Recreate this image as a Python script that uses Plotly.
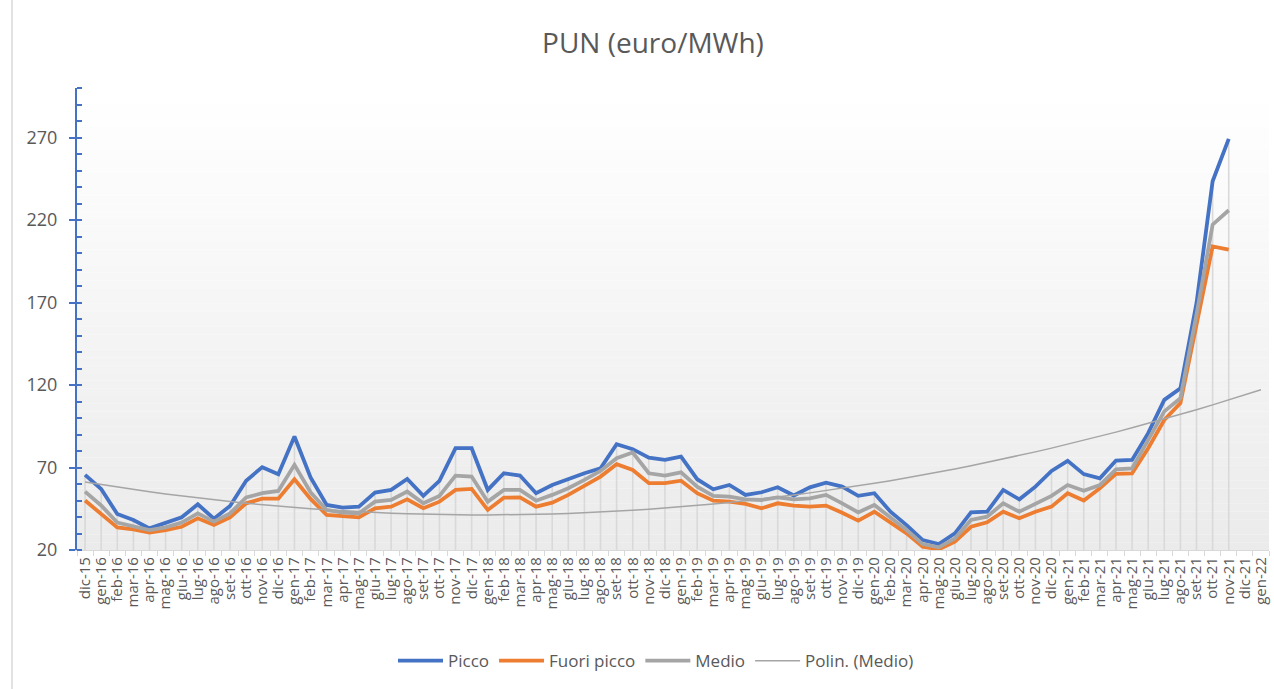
import plotly.graph_objects as go
import numpy as np

categories = [
    "dic-15",
    "gen-16", "feb-16", "mar-16", "apr-16", "mag-16", "giu-16", "lug-16", "ago-16", "set-16", "ott-16", "nov-16", "dic-16",
    "gen-17", "feb-17", "mar-17", "apr-17", "mag-17", "giu-17", "lug-17", "ago-17", "set-17", "ott-17", "nov-17", "dic-17",
    "gen-18", "feb-18", "mar-18", "apr-18", "mag-18", "giu-18", "lug-18", "ago-18", "set-18", "ott-18", "nov-18", "dic-18",
    "gen-19", "feb-19", "mar-19", "apr-19", "mag-19", "giu-19", "lug-19", "ago-19", "set-19", "ott-19", "nov-19", "dic-19",
    "gen-20", "feb-20", "mar-20", "apr-20", "mag-20", "giu-20", "lug-20", "ago-20", "set-20", "ott-20", "nov-20", "dic-20",
    "gen-21", "feb-21", "mar-21", "apr-21", "mag-21", "giu-21", "lug-21", "ago-21", "set-21", "ott-21", "nov-21", "dic-21",
    "gen-22",
]

picco = [65.5, 57.0, 41.8, 38.2, 33.1, 36.2, 39.8, 47.7, 39.0, 46.7, 62.0, 70.2, 65.9,
         88.8, 64.0, 47.3, 45.7, 46.3, 54.8, 56.4, 63.1, 52.8, 61.9, 81.7, 81.7,
         56.4, 66.5, 65.1, 54.4, 59.4, 63.1, 66.5, 69.5, 84.1, 81.1, 76.0, 74.6,
         76.6, 62.9, 56.8, 59.4, 53.4, 55.0, 58.0, 53.0, 58.0, 60.8, 58.4, 52.8,
         54.4, 43.2, 35.1, 26.0, 23.6, 30.1, 42.8, 43.2, 56.4, 50.7, 58.4, 67.9,
         74.0, 66.0, 63.4, 74.2, 74.6, 90.8, 111.0, 118.0, 169.6, 243.5, 269.2]

fuori_picco = [50.0, 42.0, 33.7, 32.5, 30.5, 32.1, 34.1, 39.2, 35.2, 39.8, 48.3, 51.1, 51.1,
               62.9, 51.0, 41.2, 40.6, 39.8, 45.3, 46.3, 50.7, 45.3, 49.3, 56.4, 57.0,
               44.3, 51.7, 51.9, 46.3, 48.7, 53.4, 58.8, 64.5, 72.0, 68.5, 60.5, 60.5,
               62.0, 54.4, 49.9, 49.3, 47.9, 45.3, 48.3, 46.9, 46.3, 46.9, 42.6, 37.8,
               43.2, 36.6, 30.1, 22.0, 20.4, 25.0, 34.1, 36.8, 43.2, 39.2, 43.2, 46.3,
               54.4, 50.0, 57.4, 66.1, 66.5, 81.7, 98.8, 109.0, 155.5, 204.0, 202.0]

medio = [55.4, 47.0, 36.6, 34.5, 32.1, 33.7, 36.6, 42.2, 37.2, 42.2, 51.9, 54.4, 55.8,
         71.6, 55.0, 44.3, 42.6, 42.2, 49.3, 50.3, 55.4, 48.3, 52.8, 65.1, 64.5,
         49.3, 56.4, 56.4, 49.9, 53.4, 57.4, 62.5, 67.9, 75.6, 79.1, 66.5, 65.1,
         67.1, 58.4, 52.8, 52.3, 50.7, 50.3, 51.9, 50.7, 51.3, 53.4, 48.3, 42.8,
         47.3, 39.8, 32.1, 23.6, 21.6, 27.1, 38.2, 40.2, 48.3, 43.2, 48.3, 52.8,
         59.4, 55.9, 59.4, 68.9, 69.5, 86.7, 104.0, 112.0, 162.6, 217.2, 225.9]

y_ticks = [20, 70, 120, 170, 220, 270]

FONT = "Open Sans"
TXT = "#595959"

n_data = len(picco)
x_data = categories[:n_data]

# polynomial (order 2) trend of Medio, extended to all categories
t_fit = np.arange(1, n_data + 1)
coef = np.polyfit(t_fit, medio, 2)
t_all = np.arange(1, len(categories) + 1)
trend = np.polyval(coef, t_all)

fig = go.Figure()

# drop lines
dx, dy = [], []
for c, a, b, m in zip(x_data, picco, fuori_picco, medio):
    dx += [c, c, None]
    dy += [20, max(a, b, m), None]
fig.add_trace(go.Scatter(x=dx, y=dy, mode="lines", line=dict(color="#d9d9d9", width=1.6),
                         showlegend=False, hoverinfo="skip"))

fig.add_trace(go.Scatter(x=x_data, y=picco, mode="lines", name="Picco",
                         line=dict(color="#4472C4", width=3.8)))
fig.add_trace(go.Scatter(x=x_data, y=fuori_picco, mode="lines", name="Fuori picco",
                         line=dict(color="#ED7D31", width=3.8)))
fig.add_trace(go.Scatter(x=x_data, y=medio, mode="lines", name="Medio",
                         line=dict(color="#A5A5A5", width=3.8)))
fig.add_trace(go.Scatter(x=categories, y=trend, mode="lines", name="Polin. (Medio)",
                         line=dict(color="#A5A5A5", width=1.5)))

# gradient background of plot area
shapes = []
n = 60
for k in range(n):
    frac = k / (n - 1)
    g = int(round(235 + (255 - 235) * frac))
    shapes.append(dict(type="rect", xref="paper", yref="paper", x0=0, x1=1,
                       y0=k / n, y1=(k + 1) / n, layer="below",
                       line=dict(width=0), fillcolor=f"rgb({g},{g},{g})"))
# chart border (left)
shapes.append(dict(type="line", xref="paper", yref="paper",
                   x0=(12 - 77) / 1192, x1=(12 - 77) / 1192,
                   y0=(550 - 700) / 461.4, y1=(550 + 100) / 461.4,
                   line=dict(color="#d9d9d9", width=1.5)))

fig.update_layout(
    width=1274, height=689,
    margin=dict(l=77, r=5, t=88, b=139),
    paper_bgcolor="white", plot_bgcolor="white",
    shapes=shapes,
    font=dict(family=FONT, color=TXT),
    title=dict(text="PUN (euro/MWh)", x=653 / 1274, xref="container", xanchor="center",
               y=1 - 43 / 689, yref="container", yanchor="middle",
               font=dict(size=28, color=TXT, family=FONT)),
    showlegend=True,
    legend=dict(orientation="h", x=(656 - 77) / 1192, xanchor="center", y=(550 - 661) / 461.4,
                yanchor="middle", font=dict(size=17, color=TXT), itemwidth=45,
                tracegroupgap=20,
                bgcolor="rgba(0,0,0,0)"),
    xaxis=dict(type="category", categoryorder="array", categoryarray=categories,
               range=[-0.5, len(categories) - 0.5],
               tickmode="array", tickvals=categories, ticktext=categories,
               tickangle=-90, tickfont=dict(size=15, color=TXT),
               showline=True, linecolor="#d9d9d9", linewidth=1.2,
               ticks="outside", tickson="boundaries", ticklen=5, tickcolor="#d9d9d9",
               showgrid=False, zeroline=False, automargin=False),
    yaxis=dict(range=[20, 300], tickmode="array", tickvals=y_ticks,
               tickfont=dict(size=18, color=TXT),
               showline=True, linecolor="#4472C4", linewidth=2,
               ticks="outside", ticklen=6, tickcolor="#4472C4", tickwidth=1.5,
               minor=dict(dtick=10, tick0=20, ticks="inside", ticklen=5,
                          tickcolor="#4472C4", tickwidth=1.5),
               ticklabelstandoff=8,
               showgrid=False, zeroline=False, automargin=False),
)

fig.write_html("out.html", config={"displayModeBar": False},
               post_script="document.body.style.margin='0';")
